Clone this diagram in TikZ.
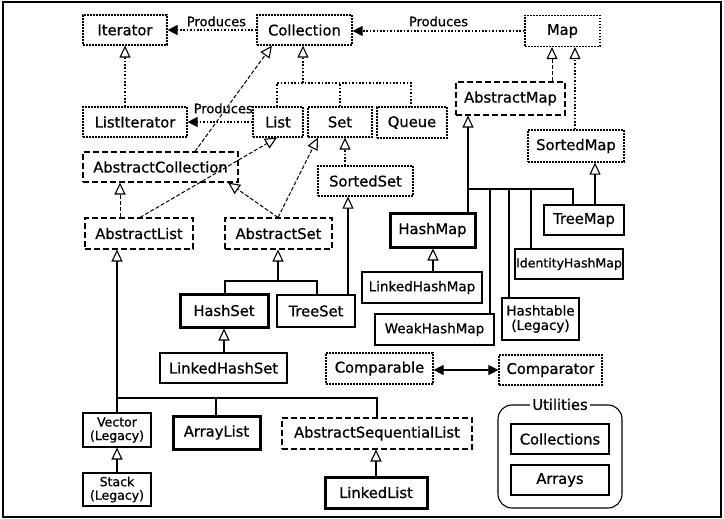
\documentclass[tikz,border=0pt]{standalone}
\usepackage{fontspec}
\setmainfont{DejaVu Sans}[FakeBold=0.8]
\usetikzlibrary{arrows.meta,calc}
\tikzset{
  base/.style={draw, inner sep=0pt, align=center, font=\fontsize{14.7}{15}\selectfont},
  iface/.style={base, dash pattern=on 1.6pt off 1.4pt, line width=1.2pt},
  abs/.style={base, dash pattern=on 6pt off 3pt, line width=1.1pt},
  conc/.style={base, line width=1.1pt},
  key/.style={base, line width=3pt},
  small/.style={font=\fontsize{12.5}{13.5}\selectfont},
  mid/.style={font=\fontsize{13.5}{14.5}\selectfont},
  ilink/.style={dash pattern=on 1.6pt off 1.8pt, line width=1.2pt},
  alink/.style={dash pattern=on 4pt off 2pt, line width=1pt},
  clink/.style={line width=1.1pt},
  gen/.style={-{Triangle[open,length=12pt,width=11pt,line width=1.1pt]}},
  tipf/.tip={Triangle[length=10pt,width=10pt]},
  prod/.style={-tipf},
  lbl/.style={font=\fontsize{13}{14}\selectfont, inner sep=1pt}
}
\begin{document}
\begin{tikzpicture}[x=1pt,y=-1pt]
\useasboundingbox (0,0) rectangle (724,519);
\draw[line width=1.2pt] (3,2) rectangle (721,517);

% interfaces
\node[iface, minimum width=84, minimum height=30] (iterator) at (125,30) {Iterator};
\node[iface, minimum width=95, minimum height=30] (collection) at (304.5,30) {Collection};
\node[iface, minimum width=75, minimum height=31] (map) at (562.5,31) {Map};
\node[iface, minimum width=104, minimum height=30] (listiterator) at (135,122) {ListIterator};
\node[iface, minimum width=50, minimum height=30] (list) at (278,122) {List};
\node[iface, minimum width=64, minimum height=30] (set) at (340,122) {Set};
\node[iface, minimum width=70, minimum height=31] (queue) at (412,122.5) {Queue};
\node[iface, minimum width=96, minimum height=32] (sortedmap) at (576,146) {SortedMap};
\node[iface, minimum width=95, minimum height=30] (sortedset) at (365.5,181) {SortedSet};
\node[iface, minimum width=107, minimum height=31] (comparable) at (379.5,368.5) {Comparable};
\node[iface, minimum width=103, minimum height=30] (comparator) at (550.5,370) {Comparator};

% abstract classes
\node[abs, minimum width=109, minimum height=33] (absmap) at (510.5,98.5) {AbstractMap};
\node[abs, minimum width=155, minimum height=30] (abscoll) at (160.5,167) {AbstractCollection};
\node[abs, minimum width=108, minimum height=31] (abslist) at (139,233.5) {AbstractList};
\node[abs, minimum width=107, minimum height=31] (absset) at (278.5,233.5) {AbstractSet};
\node[abs, minimum width=190, minimum height=31] (abssl) at (377,433.5) {AbstractSequentialList};

% concrete classes
\node[key, minimum width=85, minimum height=34] (hashmap) at (432.5,230) {HashMap};
\node[conc, minimum width=80, minimum height=30] (treemap) at (584,220) {TreeMap};
\node[conc, small, minimum width=108, minimum height=30] (identity) at (569,264) {IdentityHashMap};
\node[conc, mid, minimum width=120, minimum height=31] (linkedhashmap) at (422,287.5) {LinkedHashMap};
\node[conc, mid, minimum width=119, minimum height=31] (weakhashmap) at (434.5,329.5) {WeakHashMap};
\node[conc, mid, minimum width=77, minimum height=42] (hashtable) at (540.5,319) {Hashtable\\(Legacy)};
\node[key, minimum width=88, minimum height=33] (hashset) at (224,310.5) {HashSet};
\node[conc, minimum width=78, minimum height=32] (treeset) at (316,311) {TreeSet};
\node[conc, minimum width=127, minimum height=30] (linkedhashset) at (223.5,368) {LinkedHashSet};
\node[conc, small, minimum width=68, minimum height=34] (vector) at (117,430) {Vector\\(Legacy)};
\node[conc, small, minimum width=68, minimum height=33] (stack) at (117,489.5) {Stack\\(Legacy)};
\node[key, minimum width=87, minimum height=33] (arraylist) at (216.5,432.5) {ArrayList};
\node[key, minimum width=102, minimum height=31] (linkedlist) at (376,492.5) {LinkedList};

% utilities
\node[draw, line width=1.1pt, rounded corners=14pt, minimum width=124, minimum height=103, inner sep=0pt] (util) at (560,456.5) {};
\node[fill=white, font=\fontsize{14.7}{15}\selectfont, inner sep=2.5pt] (utillabel) at (util.north) {Utilities};
\node[conc, minimum width=98, minimum height=30] (collections) at (560,439) {Collections};
\node[conc, minimum width=98, minimum height=30] (arrays) at (560,480) {Arrays};

% produces
\draw[ilink, prod] (collection.west) -- node[lbl, above=2pt, pos=0.45] (p1) {Produces} (iterator.east);
\draw[ilink, prod] (map.west) -- node[lbl, above=3pt] (p2) {Produces} (map.west -| collection.east);
\draw[ilink, prod] (list.west) -- node[lbl, above=7pt, pos=0.45] (p3) {Produces} (listiterator.east);

% iterator
\draw[ilink, gen] (125,0 |- listiterator.north) -- (iterator.south);

% collection tree
\coordinate (cbus) at (303,83);
\draw[ilink] (277,0 |- list.north) -- (277,83) -- (411,83) -- (411,0 |- queue.north);
\draw[ilink] (set.north) -- (340,83);
\draw[ilink, gen] (cbus) -- (303,0 |- collection.south);

% abstract collection
\draw[alink, gen] (195,0 |- abscoll.north) -- (272,0 |- collection.south);
\draw[alink, gen] (140,0 |- abslist.north) -- (277,0 |- list.south);
\draw[alink, gen] (120,0 |- abslist.north) -- (120,0 |- abscoll.south);
\draw[alink, gen] (278,0 |- absset.north) -- (228,0 |- abscoll.south);
\draw[alink, gen] (278,0 |- absset.north) -- (318,0 |- set.south);
\draw[ilink, gen] (345,0 |- sortedset.north) -- (345,0 |- set.south);
\draw[clink, gen] (348,0 |- treeset.north) -- (348,0 |- sortedset.south);

% set tree
\coordinate (sbus) at (278,281);
\draw[clink] (225,0 |- hashset.north) -- (225,281) -- (317,281) -- (317,0 |- treeset.north);
\draw[clink, gen] (sbus) -- (278,0 |- absset.south);
\draw[clink, gen] (224,0 |- linkedhashset.north) -- (224,0 |- hashset.south);

% list tree
\coordinate (lbus) at (117,398);
\draw[clink] (117,0 |- vector.north) -- (117,398) -- (377,398) -- (377,0 |- abssl.north);
\draw[clink] (216,398) -- (216,0 |- arraylist.north);
\draw[clink, gen] (lbus) -- (117,0 |- abslist.south);
\draw[clink, gen] (stack.north) -- (vector.south);
\draw[clink, gen] (376,0 |- linkedlist.north) -- (376,0 |- abssl.south);

% map
\draw[alink, gen] (552,0 |- absmap.north) -- (552,0 |- map.south);
\draw[ilink, gen] (575,0 |- sortedmap.north) -- (575,0 |- map.south);
\draw[clink, gen] (595,0 |- treemap.north) -- (595,0 |- sortedmap.south);
\draw[clink, gen] (468,0 |- hashmap.north) -- (468,0 |- absmap.south);
\draw[clink] (468,189) -- (573,189) -- (573,0 |- treemap.north);
\draw[clink] (490,189) -- (490,0 |- weakhashmap.north);
\draw[clink] (509,189) -- (509,0 |- hashtable.north);
\draw[clink] (531,189) -- (531,0 |- identity.north);
\draw[clink, gen] (433,0 |- linkedhashmap.north) -- (433,0 |- hashmap.south);

% comparable
\draw[clink, tipf-tipf] (comparable.east |- comparator.west) -- (comparator.west);
\end{tikzpicture}
\end{document}
